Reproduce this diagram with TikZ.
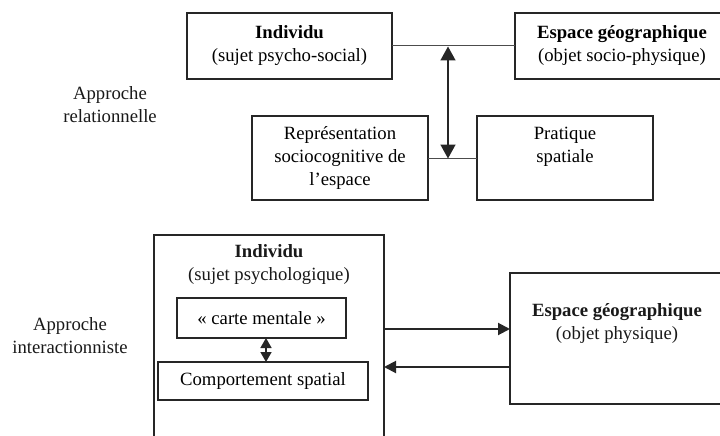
\documentclass[tikz,border=0pt]{standalone}
\usepackage{fontspec}
\setmainfont{Liberation Serif}
\usetikzlibrary{arrows.meta}
\begin{document}
\begin{tikzpicture}[x=1pt,y=-1pt,
  font=\fontsize{18.7}{23}\selectfont,
  box/.style={draw=black!85, line width=1.5pt, rectangle, inner sep=0pt, outer sep=0pt, align=center},
  link/.style={draw=black!70, line width=1pt},
  txt/.style={align=center, inner sep=0pt, text=black!90},
  bigarrow/.style={draw=black!85, line width=1.6pt, {Triangle[width=15pt,length=14pt]}-{Triangle[width=15pt,length=14pt]}},
  smallarrow/.style={draw=black!85, line width=1.6pt, {Triangle[width=11pt,length=10pt]}-{Triangle[width=11pt,length=10pt]}},
  flowarrow/.style={draw=black!85, line width=2pt, -{Triangle[width=12pt,length=12pt]}}
]
\useasboundingbox (0,0) rectangle (720,436);
\clip (0,0) rectangle (720,436);
\fill[white] (0,0) rectangle (720,436);

% --- Approche relationnelle ---
\node[txt] (rel) at (110,105) {Approche\\relationnelle};
\node[box, minimum width=205pt, minimum height=66pt] (ind1) at (289.5,46) {\textbf{Individu}\\(sujet psycho-social)};
\node[box, minimum width=214pt, minimum height=66pt] (esp1) at (622,46) {\textbf{Espace géographique}\\(objet socio-physique)};
\node[box, minimum width=176pt, minimum height=84pt] (repr) at (340,158) {Représentation\\sociocognitive de\\l’espace};
\node[box, minimum width=176pt, minimum height=84pt] (prat) at (565,158) {Pratique\\spatiale\\\vphantom{l’espace}};
\draw[link] (ind1.east) -- (esp1.west);
\draw[link] (repr.east) -- (prat.west);
\coordinate (vt) at (448,46.5);
\coordinate (vb) at (448,158.5);
\draw[bigarrow] (vt) -- (vb);

% --- Approche interactionniste ---
\node[txt] (inter) at (70,336) {Approche\\interactionniste};
\node[box, minimum width=230pt, minimum height=245pt] (indbox) at (269,357.5) {};
\node[txt] (indt) at (269,265) {\textbf{Individu}\\(sujet psychologique)};
\node[box, minimum width=169pt, minimum height=40pt] (carte) at (261.5,318) {« carte mentale »};
\node[box, minimum width=210pt, minimum height=38pt] (comp) at (263,381) {Comportement spatial};
\draw[smallarrow] ([xshift=4.5pt]carte.south) -- ([xshift=3pt]comp.north);
\node[box, minimum width=214pt, minimum height=131pt] (esp2) at (617,338.5) {};
\node[txt] (esp2t) at (617,324) {\textbf{Espace géographique}\\(objet physique)};
\coordinate (ya) at (0,329);
\coordinate (yb) at (0,367);
\draw[flowarrow] (indbox.east |- ya) -- (esp2.west |- ya);
\draw[flowarrow] (esp2.west |- yb) -- (indbox.east |- yb);
\end{tikzpicture}
\end{document}
